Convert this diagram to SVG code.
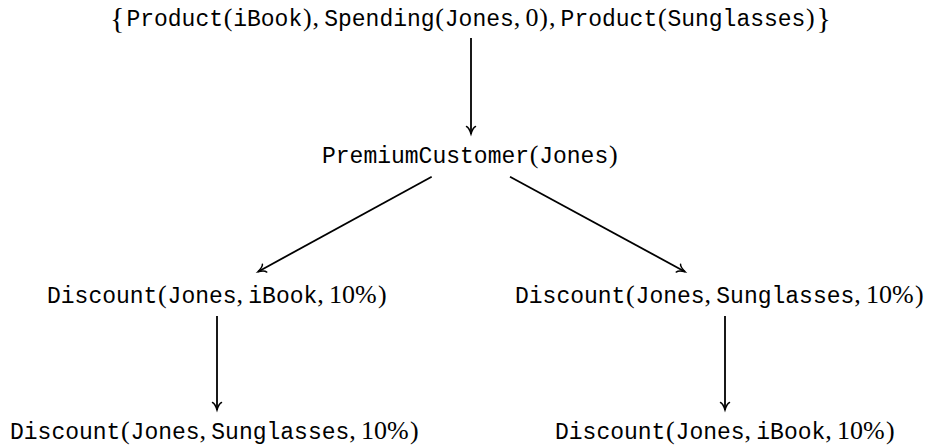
<svg xmlns="http://www.w3.org/2000/svg" width="935" height="446" viewBox="0 0 935 446">
  <style>
    .tt { font-family: "Liberation Mono", "DejaVu Sans Mono", monospace; font-size: 23px; fill: #000; }
    .rm { font-family: "Liberation Serif", "DejaVu Serif", serif; font-size: 26px; fill: #000; }
    .br { font-family: "Liberation Serif", "DejaVu Serif", serif; font-size: 30px; fill: #000; }
    .edge { stroke: #000; stroke-width: 1.8; fill: none; marker-end: url(#tip); }
  </style>
  <defs>
    <marker id="tip" markerUnits="userSpaceOnUse" markerWidth="14" markerHeight="14" viewBox="-10 -7 12 14" refX="0" refY="0" orient="auto">
      <path d="M -7.5,-4.5 C -6.5,-2 -2,-0.6 0,0 C -2,0.6 -6.5,2 -7.5,4.5" fill="none" stroke="#000" stroke-width="1.5" stroke-linecap="round"/>
    </marker>
  </defs>

  <!-- starting facts -->
  <g id="facts">
    <text y="25.5">
      <tspan class="br" x="110" y="27.5">{</tspan>
      <tspan class="tt" x="126.4" y="25.5">Product</tspan>
      <tspan class="rm" x="223.7">(</tspan>
      <tspan class="tt" x="233.2">iBook</tspan>
      <tspan class="rm" x="302.9">)</tspan>
      <tspan class="rm" x="312.5">,</tspan>
      <tspan class="tt" x="324.2">Spending</tspan>
      <tspan class="rm" x="435.3">(</tspan>
      <tspan class="tt" x="444.8">Jones</tspan>
      <tspan class="rm" x="513.8">,</tspan>
      <tspan class="rm" x="525.5">0</tspan>
      <tspan class="rm" x="539.3">)</tspan>
      <tspan class="rm" x="548.9">,</tspan>
      <tspan class="tt" x="560.6">Product</tspan>
      <tspan class="rm" x="657.9">(</tspan>
      <tspan class="tt" x="667.4">Sunglasses</tspan>
      <tspan class="rm" x="806.1">)</tspan>
      <tspan class="br" x="816.5" y="27.5">}</tspan>
    </text>
  </g>

  <g id="premium">
    <text y="163.3">
      <tspan class="tt" x="322">PremiumCustomer</tspan>
      <tspan class="rm" x="529.7">(</tspan>
      <tspan class="tt" x="539.2">Jones</tspan>
      <tspan class="rm" x="608.9">)</tspan>
    </text>
  </g>

  <!-- Discount(Jones, iBook, 10%) at x = 47 -->
  <g id="disc-ibook-1">
    <text y="302.5">
      <tspan class="tt" x="47">Discount</tspan>
      <tspan class="rm" x="158.1">(</tspan>
      <tspan class="tt" x="167.6">Jones</tspan>
      <tspan class="rm" x="236.6">,</tspan>
      <tspan class="tt" x="248.3">iBook</tspan>
      <tspan class="rm" x="317.3">,</tspan>
      <tspan class="rm" x="329">10%</tspan>
      <tspan class="rm" x="377.9">)</tspan>
    </text>
  </g>

  <!-- Discount(Jones, Sunglasses, 10%) at x = 515 -->
  <g id="disc-sun-1">
    <text y="302.5">
      <tspan class="tt" x="515">Discount</tspan>
      <tspan class="rm" x="626.1">(</tspan>
      <tspan class="tt" x="635.6">Jones</tspan>
      <tspan class="rm" x="704.6">,</tspan>
      <tspan class="tt" x="716.3">Sunglasses</tspan>
      <tspan class="rm" x="854.3">,</tspan>
      <tspan class="rm" x="866">10%</tspan>
      <tspan class="rm" x="914.9">)</tspan>
    </text>
  </g>

  <!-- Discount(Jones, Sunglasses, 10%) at x = 10 -->
  <g id="disc-sun-2">
    <text y="438.5">
      <tspan class="tt" x="10">Discount</tspan>
      <tspan class="rm" x="121.1">(</tspan>
      <tspan class="tt" x="130.6">Jones</tspan>
      <tspan class="rm" x="199.6">,</tspan>
      <tspan class="tt" x="211.3">Sunglasses</tspan>
      <tspan class="rm" x="349.3">,</tspan>
      <tspan class="rm" x="361">10%</tspan>
      <tspan class="rm" x="409.9">)</tspan>
    </text>
  </g>

  <!-- Discount(Jones, iBook, 10%) at x = 555 -->
  <g id="disc-ibook-2">
    <text y="438.5">
      <tspan class="tt" x="555">Discount</tspan>
      <tspan class="rm" x="666.1">(</tspan>
      <tspan class="tt" x="675.6">Jones</tspan>
      <tspan class="rm" x="744.6">,</tspan>
      <tspan class="tt" x="756.3">iBook</tspan>
      <tspan class="rm" x="825.3">,</tspan>
      <tspan class="rm" x="837">10%</tspan>
      <tspan class="rm" x="885.9">)</tspan>
    </text>
  </g>

  <g id="edges">
    <line class="edge" x1="471" y1="38" x2="471" y2="134"/>
    <line class="edge" x1="431.7" y1="176.7" x2="258" y2="271.7"/>
    <line class="edge" x1="510" y1="176.7" x2="685" y2="271.7"/>
    <line class="edge" x1="217" y1="316" x2="217" y2="410"/>
    <line class="edge" x1="725" y1="316" x2="725" y2="410"/>
  </g>
</svg>
